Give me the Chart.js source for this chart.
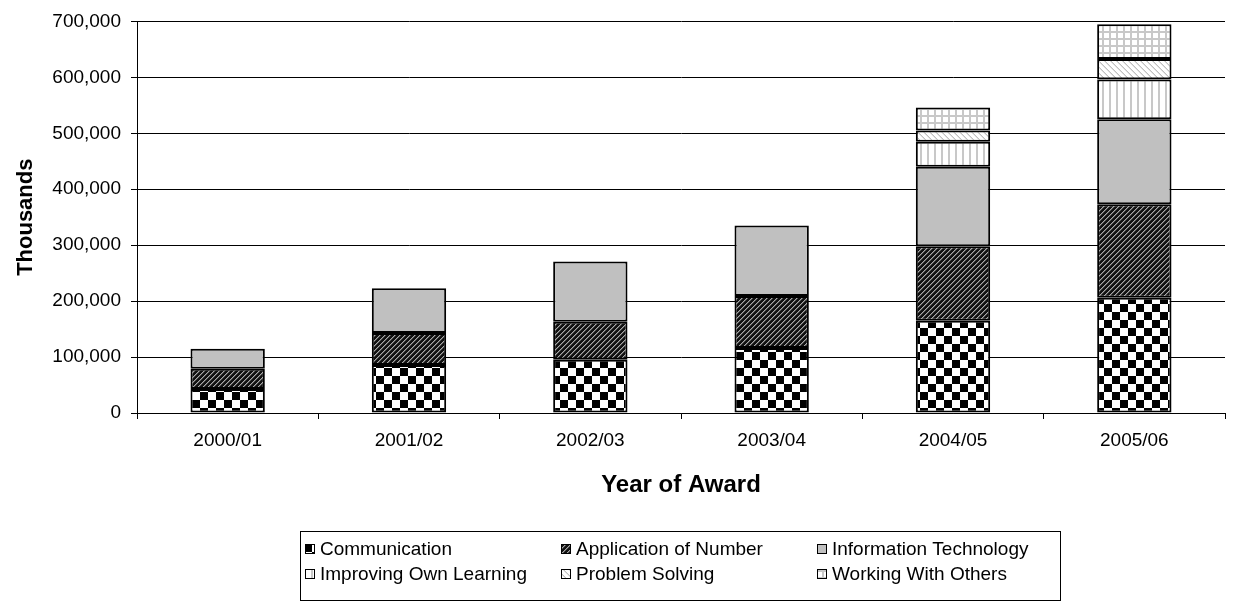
<!DOCTYPE html>
<html>
<head>
<meta charset="utf-8">
<script src="https://cdn.jsdelivr.net/npm/chart.js@4.4.1/dist/chart.umd.min.js"></script>
<style>
  html, body { margin: 0; padding: 0; background: #fff; }
  #wrap { width: 1236px; height: 612px; }
</style>
</head>
<body>
<div id="wrap"><canvas id="awards" width="1236" height="612"></canvas></div>
<script>
// --- Data (in thousands) ---
const years = ['2000/01', '2001/02', '2002/03', '2003/04', '2004/05', '2005/06'];
const communication = [43000, 86000, 95000, 116000, 165000, 206000];
const applicationOfNumber = [36000, 57000, 68000, 93000, 133000, 167000];
const informationTech = [36000, 80000, 108000, 126000, 142000, 152000];
const improvingLearning = [null, null, null, null, 45000, 71000];
const problemSolving = [null, null, null, null, 20000, 37000];
const workingWithOthers = [null, null, null, null, 41000, 62000];
const yTicks = [0, 100000, 200000, 300000, 400000, 500000, 600000, 700000];

const FONT = "'Liberation Sans', Arial, sans-serif";

// --- Fill patterns, like the old Excel hatches ---
function makePattern(size, draw) {
    const c = document.createElement('canvas');
    c.width = size; c.height = size;
    const g = c.getContext('2d');
    draw(g, size);
    return g.createPattern(c, 'repeat');
}

const checker = makePattern(16, (g) => {
    g.fillStyle = '#fff'; g.fillRect(0, 0, 16, 16);
    g.fillStyle = '#000';
    g.fillRect(0, 0, 8, 8);
    g.fillRect(8, 8, 8, 8);
});

const darkHatch = makePattern(5, (g, s) => {
    g.fillStyle = '#111'; g.fillRect(0, 0, s, s);
    for (let x = 0; x < s; x++) {
        g.fillStyle = '#a8a8a8';
        g.fillRect(x, (s - 1 - x + s) % s, 1, 1);
        g.fillStyle = '#555';
        g.fillRect(x, (s - x) % s, 1, 1);
    }
});

const greySolid = '#c0c0c0';

const vertLines = makePattern(7, (g, s) => {
    g.fillStyle = '#fff'; g.fillRect(0, 0, s, s);
    g.fillStyle = '#c8c8c8'; g.fillRect(3, 0, 2, s);
});

const diagLight = makePattern(6, (g, s) => {
    g.fillStyle = '#fff'; g.fillRect(0, 0, s, s);
    for (let x = 0; x < s; x++) {
        g.fillStyle = '#c0c0c0';
        g.fillRect(x, x, 1, 1);
        g.fillStyle = '#e0e0e0';
        g.fillRect(x, (x + 1) % s, 1, 1);
    }
});

const gridLight = makePattern(7, (g, s) => {
    g.fillStyle = '#fff'; g.fillRect(0, 0, s, s);
    g.fillStyle = '#c8c8c8';
    g.fillRect(3, 0, 2, s);
    g.fillRect(0, 3, s, 2);
});

function series(label, data, fill) {
    return {
        label: label,
        data: data,
        backgroundColor: fill,
        borderColor: '#000',
        borderWidth: 2,
        borderSkipped: false,
        barPercentage: 0.41,
        categoryPercentage: 1.0
    };
}

const datasets = [
    series('Communication', communication, checker),
    series('Application of Number', applicationOfNumber, darkHatch),
    series('Information Technology', informationTech, greySolid),
    series('Improving Own Learning', improvingLearning, vertLines),
    series('Problem Solving', problemSolving, diagLight),
    series('Working With Others', workingWithOthers, gridLight)
];

// --- Boxed legend in three columns, as in the reference ---
const boxedLegend = {
    id: 'boxedLegend',
    afterDraw(chart) {
        const ctx = chart.ctx;
        ctx.save();
        ctx.strokeStyle = '#000';
        ctx.lineWidth = 1;
        ctx.strokeRect(300.5, 531.5, 760, 69);

        const cols = [305, 561, 817];
        const rows = [549, 574];
        ctx.font = '19px ' + FONT;
        ctx.textBaseline = 'middle';
        chart.data.datasets.forEach((ds, i) => {
            const x = cols[i % 3];
            const y = rows[Math.floor(i / 3)];
            ctx.fillStyle = ds.backgroundColor;
            ctx.fillRect(x, y - 5, 10, 10);
            ctx.strokeStyle = '#000';
            ctx.strokeRect(x + 0.5, y - 4.5, 9, 9);
            ctx.fillStyle = '#000';
            ctx.fillText(ds.label, x + 15, y + 1);
        });
        ctx.restore();
    }
};

new Chart(document.getElementById('awards'), {
    type: 'bar',
    data: { labels: years, datasets: datasets },
    plugins: [boxedLegend],
    options: {
        responsive: false,
        animation: false,
        devicePixelRatio: 1,
        layout: { padding: { top: 21, right: 11, left: 0, bottom: 0 } },
        plugins: {
            legend: { display: false },
            tooltip: { enabled: false }
        },
        scales: {
            x: {
                stacked: true,
                afterFit: (s) => { s.height = 199; },
                grid: {
                    offset: true,
                    drawOnChartArea: false,
                    drawTicks: true,
                    tickLength: 6,
                    color: '#000'
                },
                border: { display: true, color: '#000', width: 1 },
                ticks: {
                    color: '#000',
                    padding: 10,
                    maxRotation: 0,
                    font: { family: FONT, size: 19 }
                },
                title: {
                    display: true,
                    text: 'Year of Award',
                    color: '#000',
                    font: { family: FONT, size: 24, weight: 'bold' },
                    padding: { top: 0, bottom: 112 }
                }
            },
            y: {
                stacked: true,
                min: 0,
                max: 700000,
                afterFit: (s) => { s.width = 137; },
                afterBuildTicks: (s) => { s.ticks = yTicks.map(v => ({ value: v })); },
                grid: {
                    color: '#000',
                    lineWidth: 1,
                    drawTicks: true,
                    tickLength: 6
                },
                border: { display: true, color: '#000', width: 1 },
                ticks: {
                    color: '#000',
                    padding: 10,
                    font: { family: FONT, size: 19 },
                    callback: (v) => v.toLocaleString('en-US')
                },
                title: {
                    display: true,
                    text: 'Thousands',
                    color: '#000',
                    font: { family: FONT, size: 22, weight: 'bold' },
                    padding: { top: 13, bottom: 0 }
                }
            }
        }
    }
});
</script>
</body>
</html>
